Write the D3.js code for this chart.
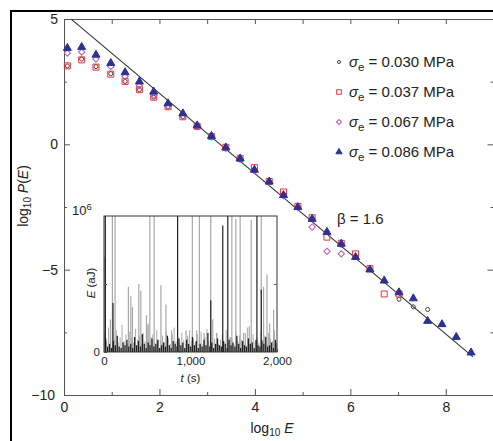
<!DOCTYPE html>
<html>
<head>
<meta charset="utf-8">
<script src="https://cdn.jsdelivr.net/npm/d3@7"></script>
<style>
  body { margin: 0; background: #fff; }
  svg { display: block; font-family: "Liberation Sans", Arial, sans-serif; }
</style>
</head>
<body>
<div class="chart"></div>
<script>
// log10 E bin centres
const logE = [0.07, 0.37, 0.67, 0.98, 1.28, 1.58, 1.88, 2.18, 2.49, 2.79, 3.09, 3.39, 3.69, 3.99,
    4.30, 4.60, 4.90, 5.20, 5.51, 5.81, 6.11, 6.41, 6.71, 7.02, 7.32, 7.62, 7.92, 8.22, 8.53];

// log10 P(E) for each stress
const p030 = [3.13, 3.40, 3.10, 2.82, 2.51, 2.18, 1.88, 1.50, 1.10, 0.70, 0.30, -0.14, -0.58, -1.02,
    -1.50, -2.00, -2.50, -2.97, -3.48, -4.02, -4.48, -4.98, -5.45, -6.18, -6.48, -6.59];
const p037 = [3.13, 3.37, 3.08, 2.80, 2.51, 2.18, 1.88, 1.50, 1.10, 0.72, 0.31, -0.12, -0.56, -0.93,
    -1.48, -1.90, -2.48, -2.93, -3.70, -3.95, -4.37, -4.96, -5.97, -5.97];
const p067 = [3.64, 3.68, 3.40, 3.11, 2.71, 2.34, 1.97, 1.52, 1.12, 0.70, 0.30, -0.16, -0.60, -1.05,
    -1.52, -2.05, -2.52, -3.30, -4.27, -4.37];
const p086 = [3.84, 3.88, 3.57, 3.24, 2.87, 2.50, 2.10, 1.63, 1.23, 0.75, 0.33, -0.13, -0.57, -1.02,
    -1.49, -2.03, -2.51, -2.98, -3.50, -3.97, -4.50, -5.00, -5.44, -5.91, -6.15, -7.05, -7.18, -7.69, -8.31];

const stressLabels = ["0.030", "0.037", "0.067", "0.086"];

const beta = 1.6;
const fitIntercept = 5.235;
const fitRange = [0.15, 8.57];

const xTicks = [0, 2, 4, 6, 8];
const yTicks = [5, 0, -5, -10];

// inset: E(t) in units of 10^6 aJ
const tallSpikes = [ // [t (s), E, dark]
    [15, 1.2, 1], [97, 1.2, 0], [128, 1.2, 0], [530, 1.2, 0], [580, 1.2, 0], [851, 1.2, 1],
    [1021, 1.2, 0], [1103, 1.2, 0], [1234, 1.2, 0], [1431, 1.2, 1], [1478, 1.2, 0], [1574, 1.2, 0],
    [1768, 1.2, 1], [1818, 1.2, 0], [1373, 0.93, 1], [1524, 0.98, 0], [1702, 0.97, 0]
];
const midSpikes = [
    [15, 0.70, 1], [74, 0.24, 0], [104, 0.36, 1], [282, 0.48, 0], [310, 0.41, 0], [329, 0.33, 0],
    [402, 0.50, 0], [426, 0.45, 0], [491, 0.27, 0], [511, 0.21, 0], [658, 0.49, 0], [716, 0.35, 0],
    [781, 0.16, 0], [948, 0.16, 0], [967, 0.11, 0], [1072, 0.16, 0], [1157, 0.14, 0], [1234, 0.38, 1],
    [1257, 0.24, 0], [1304, 0.14, 0], [1466, 0.11, 0], [1633, 0.14, 0], [1679, 0.19, 0],
    [1845, 0.48, 0], [1818, 0.46, 1], [1884, 0.57, 0], [1915, 0.21, 0], [1961, 0.31, 0]
];
const baseGrey = [0.14, 0.08, 0.18, 0.06, 0.12, 0.09, 0.16, 0.07, 0.11, 0.20, 0.08, 0.13, 0.06, 0.15,
    0.10, 0.07, 0.17, 0.09, 0.12, 0.06, 0.14, 0.08, 0.19, 0.07, 0.11, 0.13, 0.06, 0.16, 0.09, 0.08,
    0.12, 0.07, 0.15, 0.10, 0.06, 0.13, 0.18, 0.08, 0.11, 0.07, 0.14, 0.09, 0.06, 0.12, 0.16, 0.08,
    0.10, 0.07, 0.13, 0.09, 0.15, 0.06, 0.11, 0.17, 0.08, 0.12, 0.07, 0.10, 0.14, 0.06, 0.09, 0.13,
    0.08, 0.16, 0.07, 0.11, 0.10, 0.06, 0.15, 0.08, 0.12, 0.09, 0.14, 0.07, 0.18, 0.06, 0.10, 0.13,
    0.08, 0.11, 0.07, 0.15, 0.09, 0.12, 0.06, 0.14, 0.10, 0.08, 0.16, 0.07];
const baseBlack = [0.10, 0.04, 0.06, 0.03, 0.08, 0.05, 0.12, 0.04, 0.03, 0.07, 0.05, 0.09, 0.04, 0.06,
    0.03, 0.11, 0.05, 0.08, 0.04, 0.13, 0.06, 0.03, 0.07, 0.05, 0.10, 0.04, 0.06, 0.09, 0.03, 0.05,
    0.07, 0.04, 0.12, 0.05, 0.03, 0.08, 0.06, 0.04, 0.10, 0.05, 0.07, 0.03, 0.09, 0.06, 0.04, 0.11,
    0.05, 0.08, 0.03, 0.06, 0.04, 0.09, 0.05, 0.14, 0.04, 0.07, 0.03, 0.06, 0.10, 0.05, 0.04, 0.08,
    0.06, 0.03, 0.09, 0.05, 0.07, 0.04, 0.12, 0.06, 0.03, 0.08, 0.05, 0.04, 0.10, 0.06, 0.07, 0.03,
    0.09, 0.05, 0.04, 0.08, 0.06, 0.11, 0.04, 0.05, 0.07, 0.03, 0.09, 0.06];
const insetXTicks = [0, 1000, 2000];

const width = 493;
const height = 441;
const axisColor = "#555";

const svg = d3.select(".chart").append("svg")
    .attr("width", width)
    .attr("height", height);

// outer frame (top + left)
svg.append("path")
    .attr("d", `M11,${height} V11 H${width}`)
    .attr("fill", "none")
    .attr("stroke", "#000")
    .attr("stroke-width", 2);

const x = d3.scaleLinear().domain([0, 9]).range([64, 493.5]);
const y = d3.scaleLinear().domain([-10, 5]).range([395, 19]);

const styleAxis = (g) => {
    g.selectAll(".domain").attr("stroke", axisColor);
    g.selectAll(".tick line").attr("stroke", axisColor);
    g.selectAll("text").attr("fill", "#222").attr("font-family", "Liberation Sans, Arial, sans-serif");
};

// bottom
svg.append("g").attr("transform", `translate(0,${y(-10)})`)
    .call(d3.axisBottom(x).tickValues(xTicks).tickSize(-6).tickSizeOuter(0).tickPadding(7))
    .call(styleAxis)
    .selectAll("text").attr("font-size", 14);
svg.append("g").attr("transform", `translate(0,${y(-10)})`)
    .call(d3.axisBottom(x).tickValues([1, 3, 5, 7]).tickSize(-3).tickSizeOuter(0).tickFormat(""))
    .call(styleAxis);
// top
svg.append("g").attr("transform", `translate(0,${y(5)})`)
    .call(d3.axisTop(x).tickValues([1, 2, 3, 4, 5, 6, 7, 8]).tickSize(-5).tickSizeOuter(0).tickFormat(""))
    .call(styleAxis);
// left
const leftAxis = svg.append("g").attr("transform", `translate(${x(0)},0)`)
    .call(d3.axisLeft(y).tickValues(yTicks).tickSize(-6).tickSizeOuter(0).tickPadding(6))
    .call(styleAxis);
leftAxis.selectAll("text").attr("font-size", 14)
    .filter(d => d === -10).attr("dx", -3);
svg.append("g").attr("transform", `translate(${x(0)},0)`)
    .call(d3.axisLeft(y).tickValues([2.5, -2.5, -7.5]).tickSize(-3).tickSizeOuter(0).tickFormat(""))
    .call(styleAxis);
// right
svg.append("g").attr("transform", `translate(${x(9)},0)`)
    .call(d3.axisRight(y).tickValues([0, -5]).tickSize(-6).tickSizeOuter(0).tickFormat(""))
    .call(styleAxis);
svg.append("g").attr("transform", `translate(${x(9)},0)`)
    .call(d3.axisRight(y).tickValues([2.5, -2.5, -7.5]).tickSize(-3).tickSizeOuter(0).tickFormat(""))
    .call(styleAxis);

// axis titles
const yTitle = svg.append("text")
    .attr("transform", "translate(28,196) rotate(-90)")
    .attr("text-anchor", "middle")
    .attr("font-size", 14)
    .attr("fill", "#222");
yTitle.append("tspan").text("log");
yTitle.append("tspan").text("10").attr("font-size", 10).attr("dy", 3);
yTitle.append("tspan").text(" ").attr("dy", -3);
yTitle.append("tspan").text("P").attr("font-style", "italic");
yTitle.append("tspan").text("(");
yTitle.append("tspan").text("E").attr("font-style", "italic");
yTitle.append("tspan").text(")");

const xTitle = svg.append("text")
    .attr("x", 272).attr("y", 433)
    .attr("text-anchor", "middle")
    .attr("font-size", 14)
    .attr("fill", "#222");
xTitle.append("tspan").text("log");
xTitle.append("tspan").text("10").attr("font-size", 10).attr("dy", 3);
xTitle.append("tspan").text(" ").attr("dy", -3);
xTitle.append("tspan").text("E").attr("font-style", "italic");

// power-law fit
const fitLine = d3.line()
    .x(d => x(d))
    .y(d => y(fitIntercept - beta * d));
svg.append("path")
    .attr("d", fitLine(fitRange))
    .attr("fill", "none")
    .attr("stroke", "#333")
    .attr("stroke-width", 1.1);

svg.append("text")
    .attr("x", 337).attr("y", 224)
    .attr("font-size", 15)
    .attr("fill", "#222")
    .text("β = " + beta.toFixed(1));

// markers
const series = [
    { values: p030, symbol: d3.symbolCircle, size: 13, rot: 0, fill: "none", stroke: "#444" },
    { values: p037, symbol: d3.symbolSquare, size: 36, rot: 0, fill: "none", stroke: "#e8333a" },
    { values: p067, symbol: d3.symbolSquare, size: 20, rot: 45, fill: "none", stroke: "#b65bb6" },
    { values: p086, symbol: d3.symbolTriangle, size: 28, rot: 0, fill: "#2e3192", stroke: "#2e3192" }
];

series.forEach(s => {
    const sym = d3.symbol().type(s.symbol).size(s.size);
    svg.append("g").selectAll("path")
        .data(s.values)
        .enter()
        .append("path")
        .attr("d", sym)
        .attr("transform", (d, i) => `translate(${x(logE[i])},${y(d)}) rotate(${s.rot})`)
        .attr("fill", s.fill)
        .attr("stroke", s.stroke)
        .attr("stroke-width", 1);
});

// legend
const legend = svg.append("g");
series.forEach((s, i) => {
    const ly = 62 + i * 30;
    legend.append("path")
        .attr("d", d3.symbol().type(s.symbol).size(s.size * 0.6)())
        .attr("transform", `translate(339,${ly}) rotate(${s.rot})`)
        .attr("fill", s.fill)
        .attr("stroke", s.stroke);
    const t = legend.append("text")
        .attr("x", 349).attr("y", ly + 5)
        .attr("font-size", 15)
        .attr("fill", "#222");
    t.append("tspan").text("σ").attr("font-style", "italic");
    t.append("tspan").text("e").attr("font-size", 11.5).attr("dy", 4);
    t.append("tspan").text(" = " + stressLabels[i] + " MPa").attr("dy", -4);
});

// inset
const ix = d3.scaleLinear().domain([0, 2000]).range([104, 277]);
const iy = d3.scaleLinear().domain([0, 1]).range([352, 216]);
const inset = svg.append("g");

inset.append("rect")
    .attr("x", ix(0)).attr("y", iy(1))
    .attr("width", ix(2000) - ix(0)).attr("height", iy(0) - iy(1))
    .attr("fill", "#fff");

svg.append("clipPath").attr("id", "insetClip")
    .append("rect")
    .attr("x", ix(0)).attr("y", iy(1))
    .attr("width", ix(2000) - ix(0)).attr("height", iy(0) - iy(1));

const spikes = inset.append("g").attr("clip-path", "url(#insetClip)");
const baseT = d3.scaleLinear().domain([0, baseGrey.length - 1]).range([8, 1992]);

spikes.selectAll(".bg")
    .data(baseGrey)
    .enter().append("line")
    .attr("x1", (d, i) => ix(baseT(i))).attr("x2", (d, i) => ix(baseT(i)))
    .attr("y1", iy(0)).attr("y2", d => iy(d))
    .attr("stroke", "#aaa").attr("stroke-width", 1);

spikes.selectAll(".sp")
    .data(tallSpikes.concat(midSpikes).filter(d => !d[2]))
    .enter().append("line")
    .attr("x1", d => ix(d[0])).attr("x2", d => ix(d[0]))
    .attr("y1", iy(0)).attr("y2", d => iy(d[1]))
    .attr("stroke", "#a8a8a8").attr("stroke-width", 1.2);

spikes.selectAll(".bb")
    .data(baseBlack)
    .enter().append("line")
    .attr("x1", (d, i) => ix(baseT(i)) + 1).attr("x2", (d, i) => ix(baseT(i)) + 1)
    .attr("y1", iy(0)).attr("y2", d => iy(d))
    .attr("stroke", "#222").attr("stroke-width", 1.3);

spikes.selectAll(".spd")
    .data(tallSpikes.concat(midSpikes).filter(d => d[2]))
    .enter().append("line")
    .attr("x1", d => ix(d[0])).attr("x2", d => ix(d[0]))
    .attr("y1", iy(0)).attr("y2", d => iy(d[1]))
    .attr("stroke", "#222").attr("stroke-width", 1.2);

inset.append("rect")
    .attr("x", ix(0)).attr("y", iy(1))
    .attr("width", ix(2000) - ix(0)).attr("height", iy(0) - iy(1))
    .attr("fill", "none")
    .attr("stroke", "#333");

const ixAxis = inset.append("g").attr("transform", `translate(0,${iy(0)})`)
    .call(d3.axisBottom(ix).tickValues(insetXTicks).tickSize(-3).tickSizeOuter(0).tickPadding(5)
        .tickFormat(d3.format(",")))
    .call(styleAxis);
ixAxis.selectAll("text").attr("font-size", 11.5);
ixAxis.select(".domain").remove();

const iyAxis = inset.append("g").attr("transform", `translate(${ix(0)},0)`)
    .call(d3.axisLeft(iy).tickValues([0, 0.5]).tickSize(-3).tickSizeOuter(0).tickPadding(4)
        .tickFormat(d => d === 0 ? "0" : ""))
    .call(styleAxis);
iyAxis.selectAll("text").attr("font-size", 11.5);
iyAxis.select(".domain").remove();
inset.append("g").attr("transform", `translate(${ix(2000)},0)`)
    .call(d3.axisRight(iy).tickValues([0.5]).tickSize(-3).tickSizeOuter(0).tickFormat(""))
    .call(styleAxis)
    .select(".domain").remove();

const pow = inset.append("text")
    .attr("x", 72).attr("y", 215)
    .attr("font-size", 13)
    .attr("fill", "#222");
pow.append("tspan").text("10");
pow.append("tspan").text("6").attr("font-size", 9.5).attr("dy", -5);

const eTitle = inset.append("text")
    .attr("transform", "translate(95,283) rotate(-90)")
    .attr("text-anchor", "middle")
    .attr("font-size", 11.5)
    .attr("fill", "#222");
eTitle.append("tspan").text("E").attr("font-style", "italic");
eTitle.append("tspan").text(" (aJ)");

const tTitle = inset.append("text")
    .attr("x", ix(1000)).attr("y", 382)
    .attr("text-anchor", "middle")
    .attr("font-size", 11.5)
    .attr("fill", "#222");
tTitle.append("tspan").text("t").attr("font-style", "italic");
tTitle.append("tspan").text(" (s)");
</script>
</body>
</html>
